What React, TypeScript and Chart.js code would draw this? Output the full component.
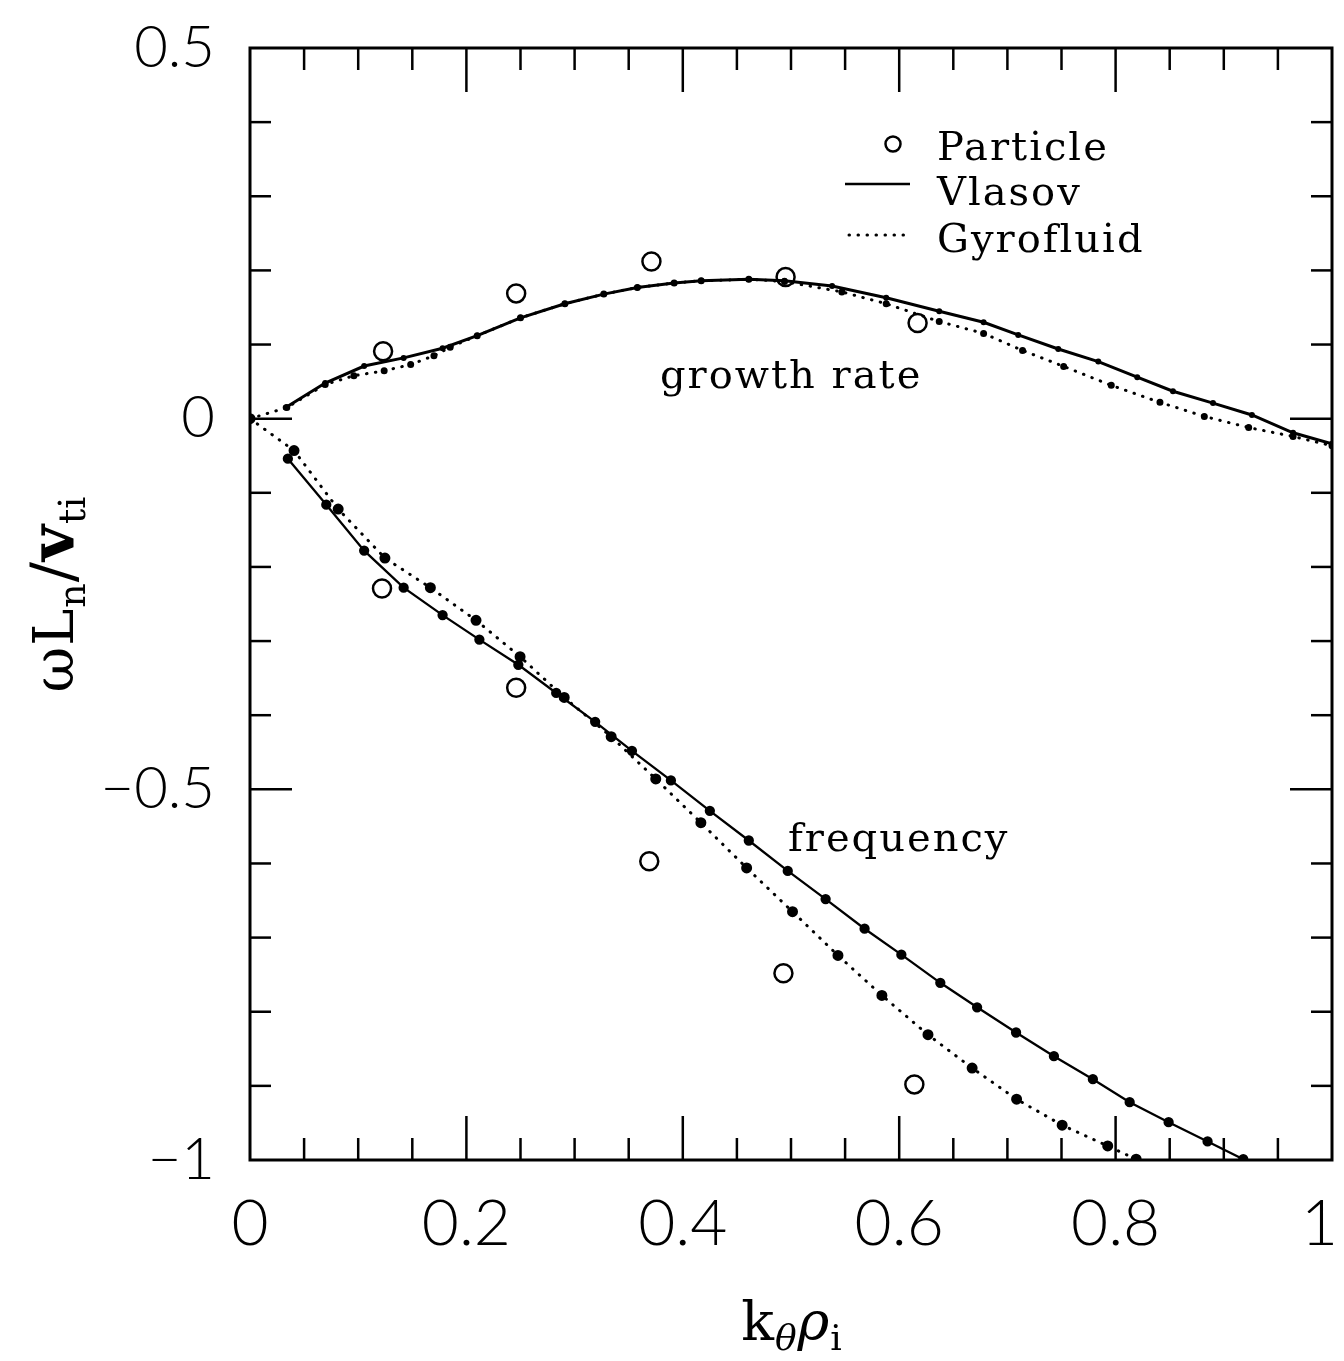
import { useEffect, useRef } from "react";
import { Chart, registerables } from "chart.js";

Chart.register(...registerables);

// ---- Data (k_theta * rho_i  vs  omega L_n / v_ti) ----
const particleGrowthK = [0.123, 0.246, 0.371, 0.495, 0.617];
const particleGrowth = [0.091, 0.169, 0.212, 0.191, 0.129];
const particleFreqK = [0.122, 0.246, 0.369, 0.493, 0.614];
const particleFreq = [-0.229, -0.363, -0.597, -0.748, -0.898];

const vlasovGrowthK = [0.033, 0.0695, 0.1055, 0.142, 0.178, 0.21, 0.25, 0.291, 0.327, 0.358, 0.392, 0.417, 0.461, 0.494, 0.538, 0.588, 0.637, 0.678, 0.71, 0.747, 0.784, 0.82, 0.853, 0.89, 0.926, 0.964, 1.0];
const vlasovGrowth = [0.015, 0.048, 0.071, 0.082, 0.095, 0.112, 0.136, 0.155, 0.168, 0.177, 0.183, 0.186, 0.188, 0.186, 0.179, 0.163, 0.145, 0.13, 0.113, 0.094, 0.077, 0.056, 0.037, 0.021, 0.005, -0.019, -0.034];

const vlasovFreqK = [0.035, 0.0705, 0.1055, 0.142, 0.178, 0.212, 0.248, 0.283, 0.319, 0.353, 0.389, 0.425, 0.461, 0.497, 0.532, 0.568, 0.602, 0.638, 0.672, 0.708, 0.743, 0.779, 0.813, 0.849, 0.885, 0.918];
const vlasovFreq = [-0.054, -0.116, -0.178, -0.228, -0.265, -0.298, -0.332, -0.37, -0.409, -0.448, -0.488, -0.529, -0.569, -0.61, -0.648, -0.688, -0.723, -0.761, -0.794, -0.828, -0.86, -0.891, -0.922, -0.949, -0.975, -0.999];

const gyroGrowthK = [0, 0.034, 0.0695, 0.096, 0.124, 0.1485, 0.17, 0.185, 0.21, 0.25, 0.291, 0.327, 0.358, 0.392, 0.417, 0.461, 0.494, 0.547, 0.588, 0.637, 0.678, 0.714, 0.752, 0.796, 0.841, 0.882, 0.923, 0.964, 1.0];
const gyroGrowth = [0, 0.015, 0.046, 0.058, 0.0645, 0.073, 0.085, 0.0965, 0.112, 0.136, 0.155, 0.168, 0.177, 0.183, 0.186, 0.188, 0.185, 0.171, 0.155, 0.131, 0.115, 0.092, 0.0705, 0.045, 0.022, 0.003, -0.012, -0.024, -0.0365];

const gyroFreqK = [0, 0.0407, 0.0815, 0.1247, 0.1667, 0.2089, 0.2496, 0.2904, 0.3338, 0.375, 0.4167, 0.459, 0.5014, 0.5434, 0.584, 0.6266, 0.6674, 0.7085, 0.7506, 0.7927, 0.819];
const gyroFreq = [0, -0.043, -0.122, -0.188, -0.228, -0.272, -0.321, -0.376, -0.429, -0.486, -0.545, -0.606, -0.665, -0.724, -0.778, -0.831, -0.876, -0.918, -0.953, -0.981, -0.999];

// ---- Axes ----
const X_MIN = 0;
const X_MAX = 1;
const Y_MIN = -1;
const Y_MAX = 0.5;
const xLabelValues = [0, 0.2, 0.4, 0.6, 0.8, 1];
const xLabelTexts = ["0", "0.2", "0.4", "0.6", "0.8", "1"];
const yLabelValues = [0.5, 0, -0.5, -1];
const yLabelTexts = ["0.5", "0", "\u22120.5", "\u22121"];
const xMinorStep = 0.05;
const xMajorStep = 0.2;
const yMinorStep = 0.1;
const yMajorStep = 0.5;

const legendLabels = ["Particle", "Vlasov", "Gyrofluid"];
const growthLabel = "growth rate";
const freqLabel = "frequency";

const pts = (xs: number[], ys: number[]) => xs.map((x, i) => ({ x, y: ys[i] }));

const isMult = (v: number, step: number) => Math.abs(v / step - Math.round(v / step)) < 1e-6;

const framePlugin = {
  id: "frame",
  afterDatasetsDraw(chart: any) {
    const { ctx, chartArea: a, scales } = chart;
    const xs = scales.x;
    const ys = scales.y;
    const W = chart.width;
    ctx.save();
    ctx.strokeStyle = "#000";
    ctx.fillStyle = "#000";
    ctx.lineCap = "butt";

    // frame
    ctx.lineWidth = 3;
    ctx.strokeRect(a.left, a.top, a.right - a.left, a.bottom - a.top);

    const seg = (x1: number, y1: number, x2: number, y2: number) => {
      ctx.beginPath();
      ctx.moveTo(x1, y1);
      ctx.lineTo(x2, y2);
      ctx.stroke();
    };

    ctx.lineWidth = 2.5;
    const nX = Math.round((X_MAX - X_MIN) / xMinorStep);
    for (let i = 1; i < nX; i++) {
      const v = X_MIN + i * xMinorStep;
      const px = xs.getPixelForValue(v);
      const len = isMult(v, xMajorStep) ? 44 : 22;
      seg(px, a.bottom, px, a.bottom - len);
      seg(px, a.top, px, a.top + len);
    }
    const nY = Math.round((Y_MAX - Y_MIN) / yMinorStep);
    for (let i = 1; i < nY; i++) {
      const v = Y_MIN + i * yMinorStep;
      const py = ys.getPixelForValue(v);
      const len = isMult(v, yMajorStep) ? 42 : 21;
      seg(a.left, py, a.left + len, py);
      seg(a.right, py, a.right - len, py);
    }

    // tick labels
    ctx.font = "300 64px Lato, 'DejaVu Sans', sans-serif";
    ctx.textAlign = "center";
    ctx.textBaseline = "middle";
    xLabelValues.forEach((v, i) => {
      const t = xLabelTexts[i];
      let px = xs.getPixelForValue(v);
      const half = ctx.measureText(t).width / 2;
      if (px + half > W - 6) px = W - 6 - half;
      ctx.fillText(t, px, a.bottom + 64);
    });
    ctx.font = "300 58px Lato, 'DejaVu Sans', sans-serif";
    ctx.textAlign = "right";
    yLabelValues.forEach((v, i) => {
      ctx.fillText(yLabelTexts[i], a.left - 35, ys.getPixelForValue(v));
    });

    // x title: k_theta rho_i
    const serif = "'DejaVu Serif', 'Liberation Serif', serif";
    ctx.textAlign = "left";
    ctx.textBaseline = "alphabetic";
    const xParts = [
      { t: "k", f: `54px ${serif}`, dy: 0 },
      { t: "\u03b8", f: `italic 36px ${serif}`, dy: 10 },
      { t: "\u03c1", f: `italic 54px ${serif}`, dy: 0 },
      { t: "i", f: `36px ${serif}`, dy: 10 },
    ];
    let w = 0;
    xParts.forEach((p) => {
      ctx.font = p.f;
      w += ctx.measureText(p.t).width + 1;
    });
    let cx = 792 - w / 2;
    const xBase = 1340;
    xParts.forEach((p) => {
      ctx.font = p.f;
      ctx.fillText(p.t, cx, xBase + p.dy);
      cx += ctx.measureText(p.t).width + 1;
    });

    // y title: omega L_n / v_ti (rotated)
    const yParts = [
      { t: "\u03c9", f: `56px ${serif}`, dy: 0 },
      { t: "L", f: `56px ${serif}`, dy: 0 },
      { t: "n", f: `38px ${serif}`, dy: 12 },
      { t: "/", f: `60px ${serif}`, dy: 0 },
      { t: "v", f: `bold 62px ${serif}`, dy: 0 },
      { t: "ti", f: `38px ${serif}`, dy: 12 },
    ];
    w = 0;
    yParts.forEach((p) => {
      ctx.font = p.f;
      w += ctx.measureText(p.t).width + 1;
    });
    ctx.save();
    ctx.translate(73, 594);
    ctx.rotate(-Math.PI / 2);
    cx = -w / 2;
    yParts.forEach((p) => {
      ctx.font = p.f;
      ctx.fillText(p.t, cx, p.dy);
      cx += ctx.measureText(p.t).width + 1;
    });
    ctx.restore();

    // legend
    const textFont = `40px ${serif}`;
    ctx.font = textFont;
    try {
      (ctx as any).letterSpacing = "2px";
    } catch (e) {}
    ctx.textAlign = "left";
    ctx.textBaseline = "alphabetic";
    const legendX = 937;
    const legendBase = [160, 205, 252];
    legendLabels.forEach((t, i) => ctx.fillText(t, legendX, legendBase[i]));
    // markers
    ctx.lineWidth = 2.5;
    ctx.beginPath();
    ctx.arc(893, 144, 7.5, 0, Math.PI * 2);
    ctx.stroke();
    ctx.lineWidth = 2.5;
    seg(845, 184, 910, 184);
    ctx.save();
    ctx.lineCap = "round";
    ctx.lineWidth = 3;
    ctx.setLineDash([0.5, 8.5]);
    seg(849, 235, 910, 235);
    ctx.restore();

    // annotations
    ctx.font = textFont;
    ctx.fillText(growthLabel, 660, 388);
    ctx.fillText(freqLabel, 788, 851);
    try {
      (ctx as any).letterSpacing = "0px";
    } catch (e) {}

    ctx.restore();
  },
};

export default function App() {
  const ref = useRef<HTMLCanvasElement>(null);

  useEffect(() => {
    const canvas = ref.current;
    if (!canvas) return;
    const solid = {
      borderColor: "#000",
      backgroundColor: "#000",
      pointBorderColor: "#000",
      pointBackgroundColor: "#000",
      showLine: true,
      fill: false,
      tension: 0,
    };
    const dotted = {
      ...solid,
      borderDash: [0.5, 8.5],
      borderCapStyle: "round",
      borderWidth: 3,
    };
    const chart = new Chart(canvas, {
      type: "line",
      data: {
        datasets: [
          { ...solid, label: "Vlasov growth", data: pts(vlasovGrowthK, vlasovGrowth), borderWidth: 3, pointRadius: 1.5 },
          { ...solid, label: "Vlasov frequency", data: pts(vlasovFreqK, vlasovFreq), borderWidth: 2.3, pointRadius: 4 },
          { ...dotted, label: "Gyrofluid growth", data: pts(gyroGrowthK, gyroGrowth), pointRadius: 2 },
          { ...dotted, label: "Gyrofluid frequency", data: pts(gyroFreqK, gyroFreq), pointRadius: 4 },
          {
            label: "Particle growth",
            data: pts(particleGrowthK, particleGrowth),
            showLine: false,
            pointStyle: "circle",
            pointRadius: 9,
            pointBorderWidth: 2.5,
            pointBorderColor: "#000",
            pointBackgroundColor: "rgba(255,255,255,0)",
            borderColor: "#000",
          },
          {
            label: "Particle frequency",
            data: pts(particleFreqK, particleFreq),
            showLine: false,
            pointStyle: "circle",
            pointRadius: 9,
            pointBorderWidth: 2.5,
            pointBorderColor: "#000",
            pointBackgroundColor: "rgba(255,255,255,0)",
            borderColor: "#000",
          },
        ] as any,
      },
      options: {
        responsive: false,
        animation: false,
        devicePixelRatio: 1,
        layout: { padding: { left: 250, right: 12, top: 48, bottom: 201 } },
        scales: {
          x: { type: "linear", min: X_MIN, max: X_MAX, display: false },
          y: { type: "linear", min: Y_MIN, max: Y_MAX, display: false },
        },
        plugins: {
          legend: { display: false },
          tooltip: { enabled: false },
        },
      } as any,
      plugins: [framePlugin],
    });
    return () => chart.destroy();
  }, []);

  return (
    <div style={{ position: "absolute", left: 0, top: 0, width: 1344, height: 1361, background: "#fff" }}>
      <canvas ref={ref} width={1344} height={1361} style={{ display: "block", width: 1344, height: 1361 }} />
    </div>
  );
}
